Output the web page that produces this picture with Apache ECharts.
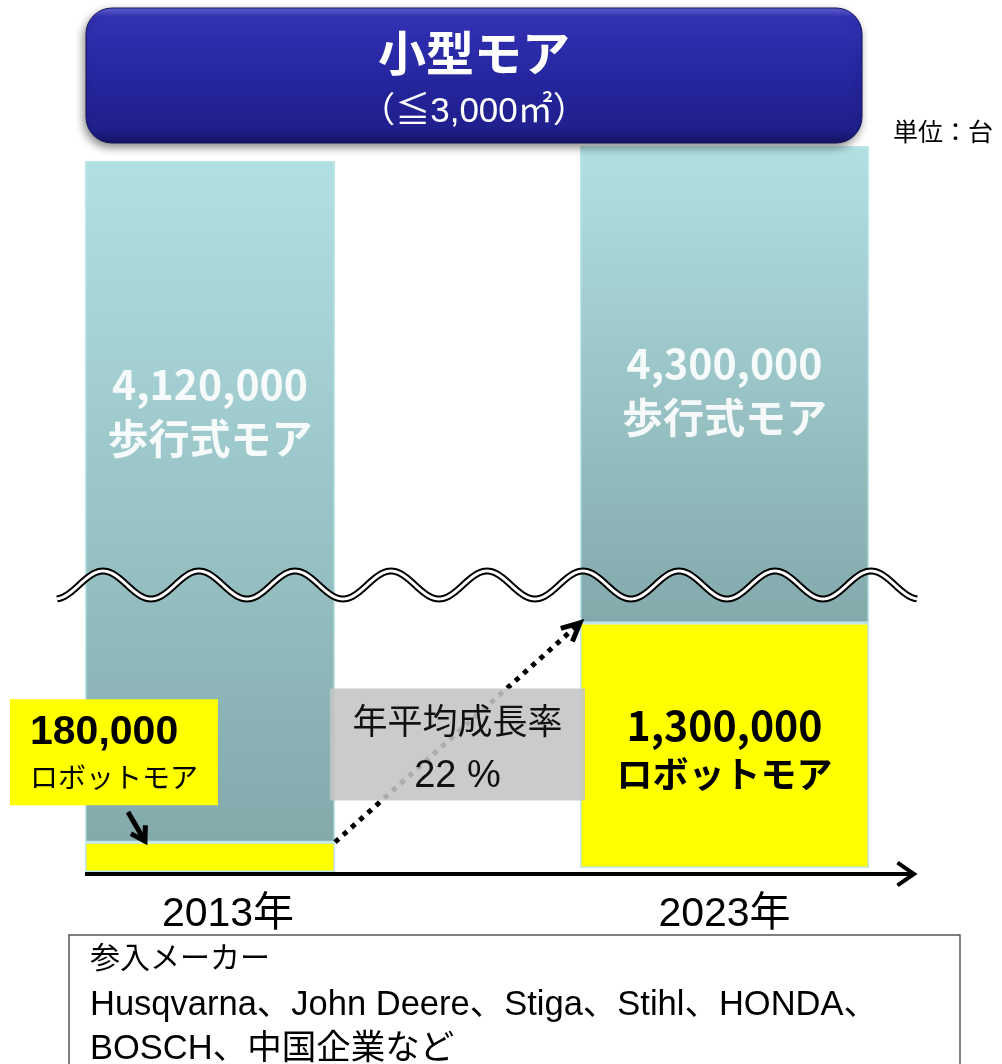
<!DOCTYPE html>
<html>
<head>
<meta charset="utf-8">
<script src="https://cdn.jsdelivr.net/npm/echarts@6.0.0/dist/echarts.min.js"></script>
<style>
html, body { margin: 0; padding: 0; background: #fff; }
#main { width: 1002px; height: 1064px; }
</style>
</head>
<body>
<div id="main"></div>
<script>
// 小型モア 市場規模(台)
var years = ['2013年', '2023年'];
var robotMower = [180000, 1300000];   // ロボットモア
var walkMower = [4120000, 4300000];   // 歩行式モア
var makers = ['Husqvarna、John Deere、Stiga、Stihl、HONDA、', 'BOSCH、中国企業など'];

// 2023年の縦軸は省略(波線)あり
var breakStart = 1500000;
var breakEnd = 3270000;

var JP = "'Noto Sans CJK JP', sans-serif";
var LAT = "'Liberation Sans', 'Noto Sans CJK JP', sans-serif";

function fmt(v) { return Number(v).toLocaleString('en-US'); }

// 年平均成長率
var cagr = Math.round((Math.pow(robotMower[1] / robotMower[0], 1 / 10) - 1) * 100);

var myChart = echarts.init(document.getElementById('main'));

var grids = [
    { left: 85, top: 161, width: 250, height: 711 },
    { left: 580, top: 146, width: 289, height: 722 }
];

var xAxes = [], yAxes = [], series = [];
for (var i = 0; i < years.length; i++) {
    xAxes.push({
        type: 'category',
        gridIndex: i,
        data: [years[i]],
        axisLine: { show: false },
        axisTick: { show: false },
        axisLabel: {
            margin: i == 0 ? 22 : 26,
            fontSize: 41,
            color: '#000',
            fontFamily: LAT,
            padding: i == 0 ? [0, 0, 0, 36] : 0
        }
    });
    var ya = {
        type: 'value',
        gridIndex: i,
        min: 0,
        max: 'dataMax',
        axisLine: { show: false },
        axisTick: { show: false },
        axisLabel: { show: false },
        splitLine: { show: false }
    };
    if (i == 1) {
        ya.breaks = [{ start: breakStart, end: breakEnd, gap: 0 }];
        ya.breakArea = { show: false };
    }
    yAxes.push(ya);

    // ロボットモア
    series.push({
        name: 'ロボットモア',
        type: 'bar',
        xAxisIndex: i,
        yAxisIndex: i,
        stack: 'total' + i,
        barWidth: '100%',
        data: [robotMower[i]],
        itemStyle: { color: '#ffff00', borderColor: '#bfe6ea', borderWidth: 1.5 },
        label: i == 0 ? {
            show: true,
            position: 'top',
            distance: 37,
            align: 'left',
            offset: [-200, 0],
            backgroundColor: '#ffff00',
            padding: [8, 20, 8, 20],
            formatter: function (p) { return '{a|' + fmt(p.value) + '}\n{b|' + p.seriesName + '}'; },
            rich: {
                a: { fontSize: 41, fontWeight: 'bold', color: '#000', fontFamily: LAT, lineHeight: 50 },
                b: { fontSize: 28, color: '#000', fontFamily: JP, lineHeight: 40 }
            }
        } : {
            show: true,
            position: 'inside',
            offset: [0, 4],
            formatter: function (p) { return '{a|' + fmt(p.value) + '}\n{b|' + p.seriesName + '}'; },
            rich: {
                a: { fontSize: 41, fontWeight: 'bold', color: '#000', fontFamily: JP, lineHeight: 50 },
                b: { fontSize: 36, fontWeight: 'bold', color: '#000', fontFamily: JP, lineHeight: 48 }
            }
        }
    });
    // 歩行式モア
    series.push({
        name: '歩行式モア',
        type: 'bar',
        xAxisIndex: i,
        yAxisIndex: i,
        stack: 'total' + i,
        barWidth: '100%',
        data: [walkMower[i]],
        itemStyle: {
            color: new echarts.graphic.LinearGradient(0, 0, 0, 1, [
                { offset: 0, color: '#b1e0e3' },
                { offset: 1, color: '#83a9ab' }
            ]),
            borderColor: '#bde5e9',
            borderWidth: 1.5
        },
        label: {
            show: true,
            position: 'insideTop',
            distance: i == 0 ? 196 : 190,
            color: 'rgba(255,255,255,0.9)',
            fontSize: 41,
            fontWeight: 'bold',
            fontFamily: JP,
            lineHeight: 54,
            formatter: function (p) { return fmt(p.value) + '\n' + p.seriesName; }
        }
    });
}

var option = {
    animation: false,
    backgroundColor: '#fff',
    grid: grids,
    xAxis: xAxes,
    yAxis: yAxes,
    series: series
};
myChart.setOption(option);

// 棒の位置から注記を配置
function barRect(idx) {
    var l = myChart.getModel().getSeriesByIndex(idx).getData().getItemLayout(0);
    var top = Math.min(l.y, l.y + l.height), bottom = Math.max(l.y, l.y + l.height);
    return { left: l.x, right: l.x + l.width, top: top, bottom: bottom };
}
function chevron(tx, ty, ang, len, spread) {
    return [
        [tx - len * Math.cos(ang - spread), ty - len * Math.sin(ang - spread)],
        [tx, ty],
        [tx - len * Math.cos(ang + spread), ty - len * Math.sin(ang + spread)]
    ];
}

var r13 = barRect(0), r23 = barRect(2);
var baseY = 874;

// 波線
var wave = [];
for (var x = 57; x <= 918; x += 2) {
    wave.push([x, 585 - 14 * Math.cos(2 * Math.PI * (x - 103) / 96)]);
}

// 点線矢印
var p0 = [r13.right, r13.top], p1 = [r23.left, r23.top];
var ang = Math.atan2(p1[1] - p0[1], p1[0] - p0[0]);

// 吹き出し矢印
var ce = [r13.left + 60, r13.top - 1];
var cs = [ce[0] - 17, 812];
var cang = Math.atan2(ce[1] - cs[1], ce[0] - cs[0]);

var midY = (r23.top + r23.bottom) / 2;

myChart.setOption({
    graphic: [
        // タイトル
        {
            type: 'rect', z: 100,
            shape: { x: 86, y: 8, width: 776, height: 135, r: 26 },
            style: {
                fill: new echarts.graphic.LinearGradient(0, 0, 0, 1, [
                    { offset: 0, color: '#6464da' },
                    { offset: 0.07, color: '#3232b4' },
                    { offset: 0.5, color: '#2626a0' },
                    { offset: 0.9, color: '#1f1f8c' },
                    { offset: 1, color: '#141462' }
                ]),
                stroke: '#12125a', lineWidth: 1,
                shadowBlur: 8, shadowOffsetX: -2, shadowOffsetY: 4, shadowColor: 'rgba(0,0,0,0.45)'
            }
        },
        {
            type: 'text', z: 101, x: 474, y: 29,
            style: { text: '小型モア', fill: '#fff', font: 'bold 48px ' + JP, textAlign: 'center' }
        },
        {
            type: 'text', z: 101, x: 474, y: 95,
            style: { text: '（≦3,000㎡）', fill: '#fff', font: '35px ' + LAT, textAlign: 'center' }
        },
        {
            type: 'text', z: 101, x: 893, y: 119,
            style: { text: '単位：台', fill: '#000', font: '25px ' + JP }
        },
        // 波線(二重線)
        {
            type: 'polyline', z: 100,
            shape: { points: wave },
            style: { stroke: '#000', lineWidth: 7, fill: null }
        },
        {
            type: 'polyline', z: 101,
            shape: { points: wave },
            style: { stroke: '#fff', lineWidth: 3, fill: null }
        },
        // 点線矢印
        {
            type: 'line', z: 100,
            shape: { x1: p0[0], y1: p0[1], x2: p1[0], y2: p1[1] },
            style: { stroke: '#000', lineWidth: 5, lineDash: [5, 6] }
        },
        {
            type: 'polyline', z: 100,
            shape: { points: chevron(p1[0], p1[1], ang, 20, 0.45) },
            style: { stroke: '#000', lineWidth: 5, fill: null }
        },
        // 年平均成長率
        {
            type: 'rect', z: 102,
            shape: { x: r13.right - 5, y: midY - 57, width: r23.left - r13.right + 10, height: 112 },
            style: { fill: 'rgba(196,196,196,0.88)' }
        },
        {
            type: 'text', z: 103, x: (r13.right + r23.left) / 2, y: midY - 42,
            style: {
                text: '年平均成長率', fill: '#111', font: '35px ' + JP, textAlign: 'center'
            }
        },
        {
            type: 'text', z: 103, x: (r13.right + r23.left) / 2, y: midY + 12,
            style: {
                text: cagr + ' %', fill: '#111', font: '38px ' + LAT, textAlign: 'center'
            }
        },
        // 吹き出し矢印
        {
            type: 'line', z: 100,
            shape: { x1: cs[0], y1: cs[1], x2: ce[0], y2: ce[1] },
            style: { stroke: '#000', lineWidth: 5 }
        },
        {
            type: 'polyline', z: 100,
            shape: { points: chevron(ce[0], ce[1], cang, 16, 0.55) },
            style: { stroke: '#000', lineWidth: 5, fill: null, lineJoin: 'miter' }
        },
        // 横軸矢印
        {
            type: 'line', z: 100,
            shape: { x1: 85, y1: baseY, x2: 912, y2: baseY },
            style: { stroke: '#000', lineWidth: 4 }
        },
        {
            type: 'polyline', z: 100,
            shape: { points: chevron(914, baseY, 0, 20, 0.6) },
            style: { stroke: '#000', lineWidth: 4, fill: null }
        },
        // 参入メーカー
        {
            type: 'rect', z: 100,
            shape: { x: 69, y: 935, width: 891, height: 140 },
            style: { fill: '#fff', stroke: '#555', lineWidth: 1.5 }
        },
        {
            type: 'text', z: 101, x: 90, y: 942,
            style: { text: '参入メーカー', fill: '#000', font: '30px ' + JP }
        },
        {
            type: 'text', z: 101, x: 90, y: 988,
            style: { text: makers[0], fill: '#000', font: '34.5px ' + LAT }
        },
        {
            type: 'text', z: 101, x: 90, y: 1032,
            style: { text: makers[1], fill: '#000', font: '34.5px ' + LAT }
        }
    ]
});
</script>
</body>
</html>
